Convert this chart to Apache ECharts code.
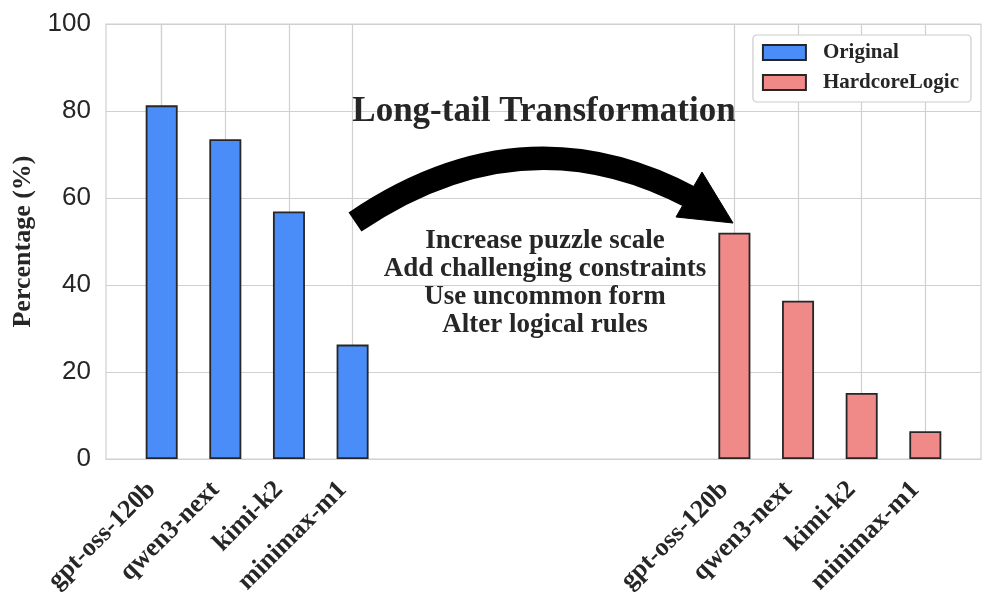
<!DOCTYPE html>
<html>
<head>
<meta charset="utf-8">
<script src="https://cdn.jsdelivr.net/npm/echarts@6/dist/echarts.min.js"></script>
<style>html,body{margin:0;padding:0;background:#fff}#main{width:996px;height:610px}</style>
</head>
<body>
<div id="main"></div>
<script>
// ---- data ----
const models = ['gpt-oss-120b', 'qwen3-next', 'kimi-k2', 'minimax-m1'];
const originalPositions = [0, 1, 2, 3];
const hardcorePositions = [9, 10, 11, 12];
const originalValues = [81.3, 73.5, 56.9, 26.3];
const hardcoreValues = [52.0, 36.4, 15.2, 6.4];
const yTicks = [0, 20, 40, 60, 80, 100];
const seriesNames = ['Original', 'HardcoreLogic'];
const titleText = 'Long-tail Transformation';
const noteLines = ['Increase puzzle scale', 'Add challenging constraints', 'Use uncommon form', 'Alter logical rules'];
const yAxisTitle = 'Percentage (%)';

// ---- build ----
const tickPositions = originalPositions.concat(hardcorePositions);
const tickNames = {};
originalPositions.forEach((p, i) => tickNames[p] = models[i]);
hardcorePositions.forEach((p, i) => tickNames[p] = models[i]);

const serif = '"Liberation Serif", "Times New Roman", serif';
const dark = '#262626';
const gridColor = '#d0d0d0';

const chart = echarts.init(document.getElementById('main'), null, {renderer: 'canvas'});
chart.setOption({
  animation: false,
  backgroundColor: '#fff',
  grid: {left: 106, right: 15, top: 24, bottom: 151, show: true, borderColor: gridColor, borderWidth: 1.2, backgroundColor: 'transparent'},
  legend: {
    right: 25, top: 35, orient: 'vertical',
    itemWidth: 43, itemHeight: 15, itemGap: 9,
    padding: [7, 12, 9, 9],
    borderColor: '#cccccc', borderWidth: 1.2, borderRadius: 4, backgroundColor: '#fff',
    icon: 'rect',
    textStyle: {fontFamily: serif, fontWeight: 'bold', fontSize: 21, color: dark, padding: [0, 0, 0, 12]},
    data: seriesNames
  },
  xAxis: {
    type: 'value', min: -0.875, max: 12.875,
    axisLine: {show: true, lineStyle: {color: gridColor, width: 1.2}},
    axisTick: {show: false, customValues: tickPositions},
    splitLine: {show: true, lineStyle: {color: gridColor, width: 1.2}},
    axisLabel: {
      customValues: tickPositions,
      rotate: 45, margin: 17,
      fontFamily: serif, fontWeight: 'bold', fontSize: 26, color: dark,
      padding: [0, 14, 0, 0],
      formatter: v => tickNames[v] || ''
    }
  },
  yAxis: {
    type: 'value', min: 0, max: 100, interval: 20,
    name: yAxisTitle, nameLocation: 'middle', nameGap: 68,
    nameTextStyle: {fontFamily: serif, fontWeight: 'bold', fontSize: 26, color: dark},
    axisLine: {show: true, lineStyle: {color: gridColor, width: 1.2}},
    axisTick: {show: false},
    splitLine: {show: true, lineStyle: {color: gridColor, width: 1.2}},
    axisLabel: {margin: 15, fontFamily: '"Liberation Sans", Arial, sans-serif', fontSize: 26, color: dark}
  },
  series: [
    {
      name: seriesNames[0], type: 'bar', barWidth: 32, barGap: '-100%',
      itemStyle: {color: '#4A8DF8', borderColor: '#262626', borderWidth: 1.8},
      data: originalPositions.map((p, i) => [p, originalValues[i]])
    },
    {
      name: seriesNames[1], type: 'bar', barWidth: 32, barGap: '-100%',
      itemStyle: {color: '#EF8A89', borderColor: '#262626', borderWidth: 1.8},
      data: hardcorePositions.map((p, i) => [p, hardcoreValues[i]])
    }
  ],
  graphic: [
    {
      type: 'text', x: 544, y: 112, z: 100,
      style: {text: titleText, font: 'bold 35px ' + serif, fill: dark, textAlign: 'center', textVerticalAlign: 'middle'}
    },
    {
      type: 'text', x: 545, y: 283, z: 100,
      style: {text: noteLines.join('\n'), font: 'bold 27px ' + serif, lineHeight: 28, fill: dark, textAlign: 'center', textVerticalAlign: 'middle'}
    },
    {
      type: 'bezierCurve', z: 100,
      shape: {x1: 355, y1: 222, cpx1: 523.2, cpy1: 108.1, x2: 691.4, y2: 197.7},
      style: {stroke: '#000', lineWidth: 23, fill: null, lineCap: 'butt'}
    },
    {
      type: 'polygon', z: 100,
      shape: {points: [[733, 223], [676, 217], [702, 172]]},
      style: {fill: '#000', stroke: '#000', lineWidth: 1, lineJoin: 'round'}
    }
  ]
});
</script>
</body>
</html>
